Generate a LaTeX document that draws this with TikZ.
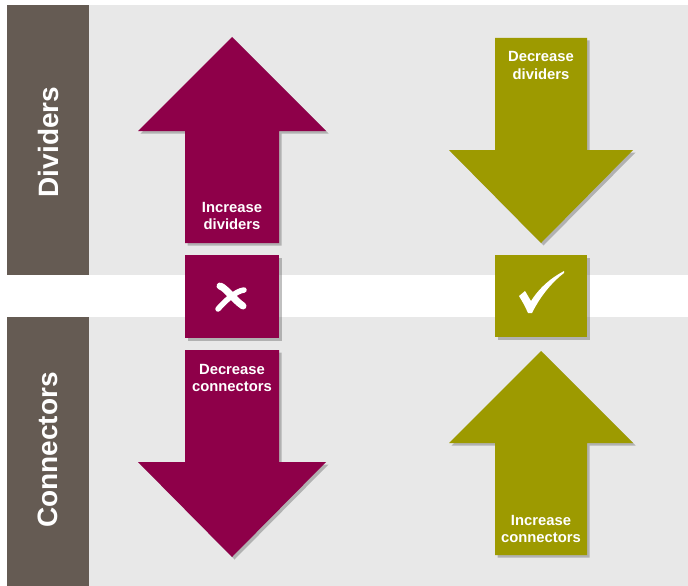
\documentclass[tikz,border=0pt]{standalone}
\usepackage{fontspec}
\setmainfont{Liberation Sans}
\usetikzlibrary{shadows}
\definecolor{maroonc}{HTML}{8E0049}
\definecolor{olivec}{HTML}{9D9A00}
\definecolor{barc}{HTML}{655B53}
\definecolor{bgc}{HTML}{E8E8E8}
\begin{document}
\begin{tikzpicture}[x=1pt,y=-1pt,
  shade/.style={drop shadow={shadow xshift=2.5pt,shadow yshift=-2.5pt,opacity=0.35,fill=black!70}},
  lab/.style={text=white,font=\bfseries\fontsize{14.8}{17.5}\selectfont,align=center,inner sep=0pt},
  side/.style={text=white,font=\bfseries\fontsize{28}{30}\selectfont,rotate=90,inner sep=0pt}]
\useasboundingbox (0,0) rectangle (688,586);
\fill[white] (0,0) rectangle (688,586);
% bands
\fill[bgc] (7,5) rectangle (688,275);
\fill[bgc] (7,317) rectangle (688,586);
\fill[barc] (7,5) rectangle (89,275);
\fill[barc] (7,317) rectangle (89,586);
\node[side] (div) at (48,142) {Dividers};
\node[side] (con) at (48,450) {Connectors};
% left column (maroon)
\fill[maroonc,shade] (232,37) -- (326,131) -- (279,131) -- (279,243) -- (185,243) -- (185,131) -- (138,131) -- cycle;
\fill[maroonc,shade] (185,255) rectangle (279,338);
\fill[maroonc,shade] (185,350) -- (279,350) -- (279,462) -- (326,462) -- (232,557) -- (138,462) -- (185,462) -- cycle;
\node[lab] (incdiv) at (232,216) {Increase\\dividers};
\node[lab] (deccon) at (232,378) {Decrease\\connectors};
% cross mark (brush style)
\draw[white,line width=7pt,line cap=round] (220,286) .. controls (226,288) and (233,299) .. (243,306);
\draw[white,line width=5.5pt,line cap=round] (244,290) .. controls (236,291) and (226,300) .. (218,309);
% right column (olive)
\fill[olivec,shade] (495,38) -- (587,38) -- (587,150) -- (633,150) -- (541,243) -- (449,150) -- (495,150) -- cycle;
\fill[olivec,shade] (495,255) rectangle (587,337);
\fill[olivec,shade] (541,351) -- (633,443) -- (587,443) -- (587,555) -- (495,555) -- (495,443) -- (449,443) -- cycle;
\node[lab] (decdiv) at (541,65.5) {Decrease\\dividers};
\node[lab] (inccon) at (541,529) {Increase\\connectors};
% check mark
\fill[white] (519,296) -- (525,291) .. controls (527,294) and (529,298) .. (531,301)
  .. controls (540,287) and (551,278) .. (564,271) -- (564,273)
  .. controls (551,283) and (540,297) .. (532,313) -- (528,313) .. controls (525,306) and (522,301) .. (519,296) -- cycle;
\end{tikzpicture}
\end{document}
